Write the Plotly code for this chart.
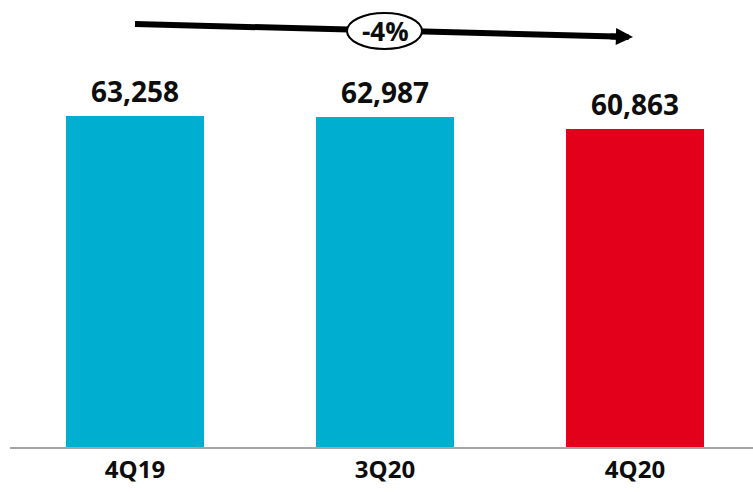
import plotly.graph_objects as go

# Quarterly totals
quarters = ["4Q19", "3Q20", "4Q20"]
values = [63258, 62987, 60863]
value_labels = ["63,258", "62,987", "60,863"]
bar_colors = ["#00AECF", "#00AECF", "#E2001A"]
change_label = "-4%"

FONT = "Open Sans"
TEXT_COLOR = "#0d0d0d"

xs = list(range(len(quarters)))

fig = go.Figure(
    go.Bar(
        x=xs,
        y=values,
        width=0.552,
        marker=dict(color=bar_colors, line=dict(width=0)),
        hoverinfo="skip",
    )
)

# Value labels sitting just above each bar
for x, v, lab in zip(xs, values, value_labels):
    fig.add_annotation(x=x, y=v, xref="x", yref="y", text=lab,
                       showarrow=False, xanchor="center", yanchor="bottom",
                       yshift=4,
                       font=dict(family=FONT, size=28, color=TEXT_COLOR, weight="bold"))

plot_h = 447.0  # plot area height in px (t=0, b=45 on a 492px page)


def py(pix):
    """Convert a pixel row (from the top of the page) to paper y."""
    return (plot_h - pix) / plot_h


# Trend arrow: shaft, labelled ellipse on top, then the head
fig.add_shape(type="line", xref="x", yref="paper",
              x0=0, y0=py(24), x1=1.96, y1=py(36.7),
              line=dict(color="black", width=6), layer="above")
fig.add_shape(type="circle", xref="x", yref="paper",
              x0=0.848, x1=1.148, y0=py(49), y1=py(13),
              fillcolor="white", line=dict(color="black", width=2), layer="above")
fig.add_annotation(x=1, y=py(31), xref="x", yref="paper", text=change_label,
                   showarrow=False, xanchor="center", yanchor="middle",
                   font=dict(family=FONT, size=26, color=TEXT_COLOR, weight="bold"))
fig.add_annotation(x=1.992, y=py(37), xref="x", yref="paper", text="",
                   showarrow=True, arrowhead=2, arrowwidth=6, arrowsize=0.57,
                   arrowcolor="black", ax=-24, ay=-0.6)

fig.update_layout(
    width=753, height=492,
    margin=dict(l=10, r=0, t=0, b=45),
    paper_bgcolor="white", plot_bgcolor="white",
    showlegend=False,
    bargap=0,
    xaxis=dict(
        range=[-0.5, -0.5 + 743 / 250],
        tickmode="array",
        tickvals=xs,
        ticktext=quarters,
        showline=True, linecolor="#A6A6A6", linewidth=2,
        ticks="", showgrid=False, zeroline=False,
        tickfont=dict(family=FONT, size=24, color=TEXT_COLOR, weight="bold"),
        fixedrange=True,
    ),
    yaxis=dict(
        range=[0, 85430],
        visible=False, showgrid=False, zeroline=False,
        fixedrange=True,
    ),
)

fig.write_html("out.html", config={"displayModeBar": False})
